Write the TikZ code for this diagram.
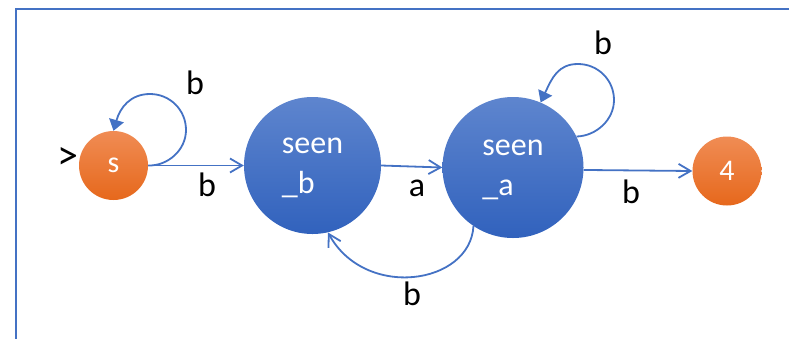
\documentclass[tikz,border=0pt]{standalone}
\usepackage{fontspec}
\setmainfont{Carlito}
\usetikzlibrary{arrows.meta}
\definecolor{edgeblue}{HTML}{4472C4}
\definecolor{bluetop}{HTML}{5E85CE}
\definecolor{bluebot}{HTML}{3162BD}
\definecolor{orangetop}{HTML}{F08C54}
\definecolor{orangebot}{HTML}{E6681C}
\newcommand{\twoline}[2]{\raisebox{-5pt}{\begin{tabular}{@{}l@{}}#1\\[1pt]#2\end{tabular}}}
\begin{document}
\begin{tikzpicture}[x=1pt,y=1pt,
  bigstate/.style={circle, inner sep=0pt, top color=bluetop, bottom color=bluebot, draw=none,
    text=white, font=\fontsize{32}{39}\selectfont},
  smallstate/.style={circle, minimum size=69pt, inner sep=0pt, top color=orangetop, bottom color=orangebot,
    draw=none, text=white, font=\fontsize{30}{34}\selectfont},
  edge/.style={draw=edgeblue, line width=1.8pt, -{Straight Barb[length=12pt,width=14pt]}},
  loopedge/.style={draw=edgeblue, line width=1.8pt, -{Triangle[length=11pt,width=15pt]}},
  lbl/.style={font=\fontsize{34}{38}\selectfont, text=black, inner sep=0pt}]
\useasboundingbox (0,0) rectangle (789,-338);
\draw[edgeblue, line width=2pt] (16,-340) -- (16,-9) -- (790,-9);
\node[smallstate] (s) at (113.5,-165.5) {s};
\node[bigstate, minimum size=137pt] (sb) at (312.5,-165.5) {\twoline{seen}{\_b}};
\node[bigstate, minimum size=141pt] (sa) at (513,-167.5) {\twoline{seen}{\_a}};
\node[smallstate] (f) at (727,-171) {4};
\node[lbl, font=\fontsize{42}{44}\selectfont] (start) at (68,-158) {>};
\node[lbl] (l1) at (195,-83) {b};
\node[lbl] (l2) at (207,-185) {b};
\node[lbl] (l3) at (417,-188) {a};
\node[lbl] (l4) at (603,-43) {b};
\node[lbl] (l5) at (631,-192) {b};
\node[lbl] (l6) at (412,-294) {b};
\draw[edge] (s.east) -- (sb.west);
\draw[edge] (sb.east) -- (sa.west);
\draw[edge] (sa.-2) -- (f.west);
\draw[edge] (sa.-124) .. controls (470,-285) and (365,-300) .. (sb.-77);
\draw[loopedge] (s.east) .. controls (168,-166) and (186,-150) .. (186,-130)
  .. controls (186,-110) and (170,-94) .. (150,-94)
  .. controls (130,-94) and (120,-108) .. (s.north);
\draw[loopedge] (sa.26) .. controls (596,-136) and (614,-120) .. (614,-100)
  .. controls (614,-80) and (598,-64) .. (578,-64)
  .. controls (558,-64) and (552,-78) .. (sa.67);
\end{tikzpicture}
\end{document}
